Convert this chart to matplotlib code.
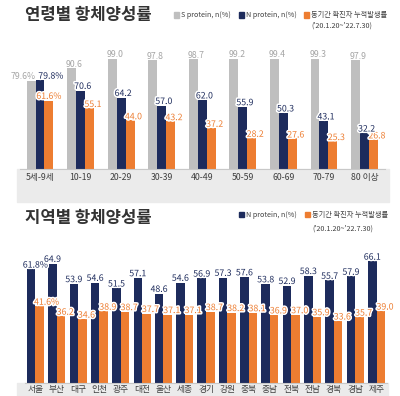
import matplotlib.pyplot as plt
import matplotlib.patheffects as pe
from matplotlib.patches import Rectangle
import numpy as np

plt.rcParams['font.family'] = ['Noto Sans CJK KR', 'DejaVu Sans']

# Data
age_groups = ["5세-9세", "10-19", "20-29", "30-39", "40-49", "50-59", "60-69", "70-79", "80 이상"]
age_s = [79.6, 90.6, 99.0, 97.8, 98.7, 99.2, 99.4, 99.3, 97.9]
age_n = [79.8, 70.6, 64.2, 57.0, 62.0, 55.9, 50.3, 43.1, 32.2]
age_cum = [61.6, 55.1, 44.0, 43.2, 37.2, 28.2, 27.6, 25.3, 26.8]

regions = ["서울", "부산", "대구", "인천", "광주", "대전", "울산", "세종", "경기",
           "강원", "충북", "충남", "전북", "전남", "경북", "경남", "제주"]
reg_n = [61.8, 64.9, 53.9, 54.6, 51.5, 57.1, 48.6, 54.6, 56.9, 57.3, 57.6, 53.8, 52.9, 58.3, 55.7, 57.9, 66.1]
reg_cum = [41.6, 36.2, 34.6, 38.9, 38.7, 37.7, 37.1, 37.1, 38.7, 38.2, 38.1, 36.9, 37.0, 35.9, 33.6, 35.7, 39.0]

GRAY = "#bfbfbf"
NAVY = "#1d2b5c"
ORANGE = "#ed7d31"
W, H = 400, 396

fig = plt.figure(figsize=(4, 3.96), dpi=100)
fig.patch.set_facecolor("white")


def px_axes(left, top, right, bottom):
    ax = fig.add_axes([left / W, 1 - bottom / H, (right - left) / W, (bottom - top) / H])
    ax.set_zorder(2)
    return ax


def band(left, top, right, bottom, color="#ebebeb"):
    fig.patches.append(Rectangle((left / W, 1 - bottom / H), (right - left) / W, (bottom - top) / H,
                                 transform=fig.transFigure, color=color, zorder=-1))


def legend_item(x, y, color, label, size=5.2):
    fig.patches.append(Rectangle((x / W, 1 - (y + 2.5) / H), 5 / W, 5 / H,
                                 transform=fig.transFigure, color=color, zorder=2))
    fig.text((x + 7) / W, 1 - y / H, label, fontsize=size, color="#404040", va="center", ha="left")


def style_axes(ax):
    ax.set_facecolor("none")
    for s in ["top", "right", "left"]:
        ax.spines[s].set_visible(False)
    ax.spines["bottom"].set_color("#c8c8c8")
    ax.spines["bottom"].set_linewidth(0.8)
    ax.set_yticks([])
    ax.tick_params(axis="x", length=0, labelsize=6.3, labelcolor="#404040")


white = [pe.withStroke(linewidth=2.2, foreground="white")]

# ---------- top: by age ----------
band(17, 169, 389, 202)
ax1 = px_axes(19.7, 49, 384.8, 169)
style_axes(ax1)
x = np.arange(len(age_groups))
bw = 0.22
ax1.bar(x - bw, age_s, bw, color=GRAY, zorder=2)
ax1.bar(x, age_n, bw, color=NAVY, zorder=2)
ax1.bar(x + bw, age_cum, bw, color=ORANGE, zorder=2)
ax1.set_xlim(-0.5, len(age_groups) - 0.5)
ax1.set_ylim(0, 108)
ax1.set_xticks(x)
ax1.set_xticklabels(age_groups)
ax1.tick_params(axis="x", pad=3)

for i in range(len(age_groups)):
    if i == 0:
        ax1.annotate(f"{age_s[i]:.1f}%", (x[i] - bw / 2, age_s[i]), xytext=(0, 1.2), textcoords="offset points",
                     ha="right", va="baseline", fontsize=6.3, color="#a6a6a6", zorder=4)
        ax1.annotate(f"{age_n[i]:.1f}%", (x[i] - bw / 2, age_n[i]), xytext=(2, 1.2), textcoords="offset points",
                     ha="left", va="baseline", fontsize=6.3, color=NAVY, path_effects=white, zorder=5)
        ax1.annotate(f"{age_cum[i]:.1f}%", (x[i] + bw, age_cum[i]), xytext=(0, 1.2), textcoords="offset points",
                     ha="center", va="baseline", fontsize=6.3, color=ORANGE, path_effects=white, zorder=4)
        continue
    ax1.annotate(f"{age_s[i]:.1f}", (x[i] - bw, age_s[i]), xytext=(2, 1.2), textcoords="offset points",
                 ha="center", va="baseline", fontsize=6.3, color="#a6a6a6", zorder=4)
    ax1.annotate(f"{age_n[i]:.1f}", (x[i], age_n[i]), xytext=(1.5, 1.2), textcoords="offset points",
                 ha="center", va="baseline", fontsize=6.3, color=NAVY, path_effects=white, zorder=5)
    ax1.annotate(f"{age_cum[i]:.1f}", (x[i] + bw, age_cum[i]), xytext=(2.5, 0.6), textcoords="offset points",
                 ha="center", va="baseline", fontsize=6.3, color=ORANGE, path_effects=white, zorder=4)

fig.text(25 / W, 1 - 15 / H, "연령별 항체양성률", fontsize=12, fontweight="bold", color="#333333",
         va="center", ha="left")
legend_item(174, 15, GRAY, "S protein, n(%)")
legend_item(239, 15, NAVY, "N protein, n(%)")
legend_item(304, 15, ORANGE, "동기간 확진자 누적발생률")
fig.text(311 / W, 1 - 26 / H, "('20.1.20~'22.7.30)", fontsize=5.2, color="#404040", va="center", ha="left")

# ---------- bottom: by region ----------
band(17, 383, 388, 396)
ax2 = px_axes(24.8, 250.5, 387.2, 383)
style_axes(ax2)
xr = np.arange(len(regions))
bw2 = 0.4
ax2.bar(xr - bw2 / 2, reg_n, bw2, color=NAVY, zorder=2)
ax2.bar(xr + bw2 / 2, reg_cum, bw2, color=ORANGE, zorder=2)
ax2.set_xlim(-0.5, len(regions) - 0.5)
ax2.set_ylim(0, 72)
ax2.set_xticks(xr)
ax2.set_xticklabels(regions)
ax2.tick_params(axis="x", pad=1.5)

for i in range(len(regions)):
    sfx = "%" if i == 0 else ""
    ax2.annotate(f"{reg_n[i]:.1f}{sfx}", (xr[i] - bw2 / 2, reg_n[i]), xytext=(3 if i == 0 else 0, 1.2),
                 textcoords="offset points", ha="center", va="baseline", fontsize=6.3, color=NAVY,
                 path_effects=white, zorder=4)
    ax2.annotate(f"{reg_cum[i]:.1f}{sfx}", (xr[i] + bw2 / 2, reg_cum[i]), xytext=(5 if i == 0 else 3, 1.2),
                 textcoords="offset points", ha="center", va="baseline", fontsize=6.3, color=ORANGE,
                 path_effects=white, zorder=4)

fig.text(25 / W, 1 - 218 / H, "지역별 항체양성률", fontsize=12, fontweight="bold", color="#333333",
         va="center", ha="left")
legend_item(239, 215, NAVY, "N protein, n(%)")
legend_item(305, 215, ORANGE, "동기간 확진자 누적발생률")
fig.text(312 / W, 1 - 229 / H, "('20.1.20~'22.7.30)", fontsize=5.2, color="#404040", va="center", ha="left")

fig.savefig("out.png", dpi=100)
